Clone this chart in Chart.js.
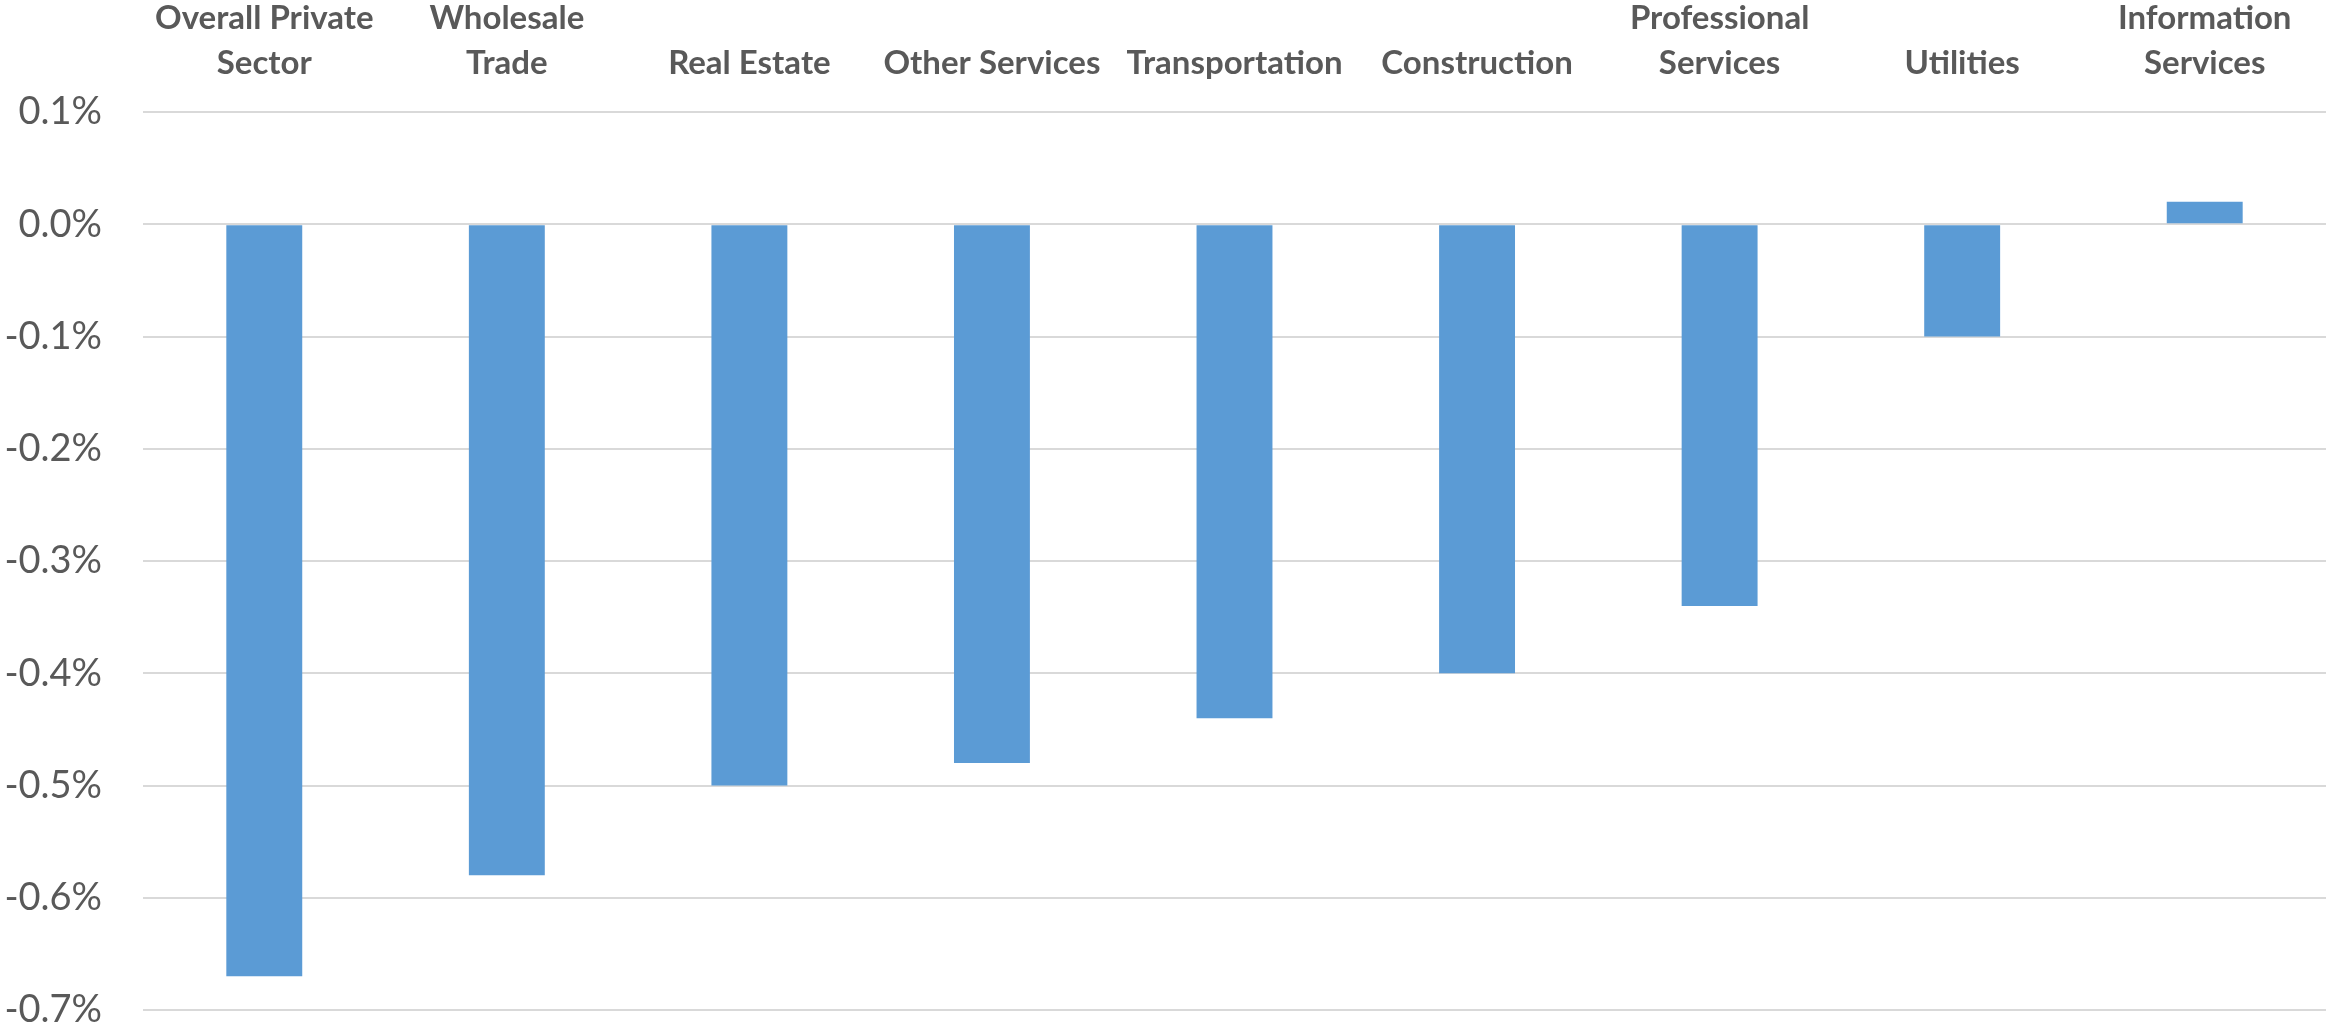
<!DOCTYPE html>
<html>
<head>
<meta charset="utf-8">
<title>Private sector change by industry</title>
<script src="https://cdn.jsdelivr.net/npm/chart.js@4.4.1/dist/chart.umd.min.js"></script>
<style>
  html, body { margin: 0; padding: 0; background: #ffffff; overflow: hidden; }
  #wrap { width: 2326px; height: 1029px; position: relative; }
</style>
</head>
<body>
<div id="wrap"><canvas id="industryChart"></canvas></div>
<script>
// categories (multi-line where the original wraps)
const categories = [
  ["Overall Private", "Sector"],
  ["Wholesale", "Trade"],
  "Real Estate",
  "Other Services",
  "Transportation",
  "Construction",
  ["Professional", "Services"],
  "Utilities",
  ["Information", "Services"]
];

// change, in percent
const changes = [-0.67, -0.58, -0.50, -0.48, -0.44, -0.40, -0.34, -0.10, 0.02];

// y axis ticks
const yTicks = [0.1, 0.0, -0.1, -0.2, -0.3, -0.4, -0.5, -0.6, -0.7];

const textColor = "#595959";
const gridColor = "#d9d9d9";

document.addEventListener("DOMContentLoaded", function () {
  const canvas = document.getElementById("industryChart");

  new Chart(canvas, {
    type: "bar",
    data: {
      labels: categories,
      datasets: [{
        data: changes,
        backgroundColor: "#5b9bd5",
        borderWidth: 0,
        barPercentage: 0.313,
        categoryPercentage: 1.0
      }]
    },
    options: {
      responsive: true,
      maintainAspectRatio: false,
      animation: false,
      layout: { padding: 0 },
      plugins: {
        legend: { display: false },
        tooltip: { enabled: false }
      },
      scales: {
        x: {
          position: "top",
          grid: { display: false, drawTicks: false },
          border: { display: false },
          ticks: {
            color: textColor,
            padding: 26,
            maxRotation: 0,
            autoSkip: false,
            font: { family: "Lato", weight: "bold", size: 33, lineHeight: 1.36 }
          },
          afterFit: function (scale) { scale.height = 112; }
        },
        y: {
          min: -0.7,
          max: 0.1,
          grid: { color: gridColor, lineWidth: 2, drawTicks: false },
          border: { display: false },
          afterBuildTicks: function (scale) {
            scale.ticks = yTicks.map(function (v) { return { value: v }; });
          },
          ticks: {
            color: textColor,
            padding: 41,
            font: { family: "Lato", size: 38, lineHeight: 1.0 },
            callback: function (value) {
              const v = Math.abs(value) < 1e-9 ? 0 : value;
              return v.toFixed(1) + "%";
            }
          },
          afterFit: function (scale) {
            // tick padding is horizontal here, keep it out of the top/bottom room
            scale.width = 143;
            scale.paddingTop = 0;
            scale.paddingBottom = 19;
          }
        }
      }
    }
  });
});
</script>
</body>
</html>
